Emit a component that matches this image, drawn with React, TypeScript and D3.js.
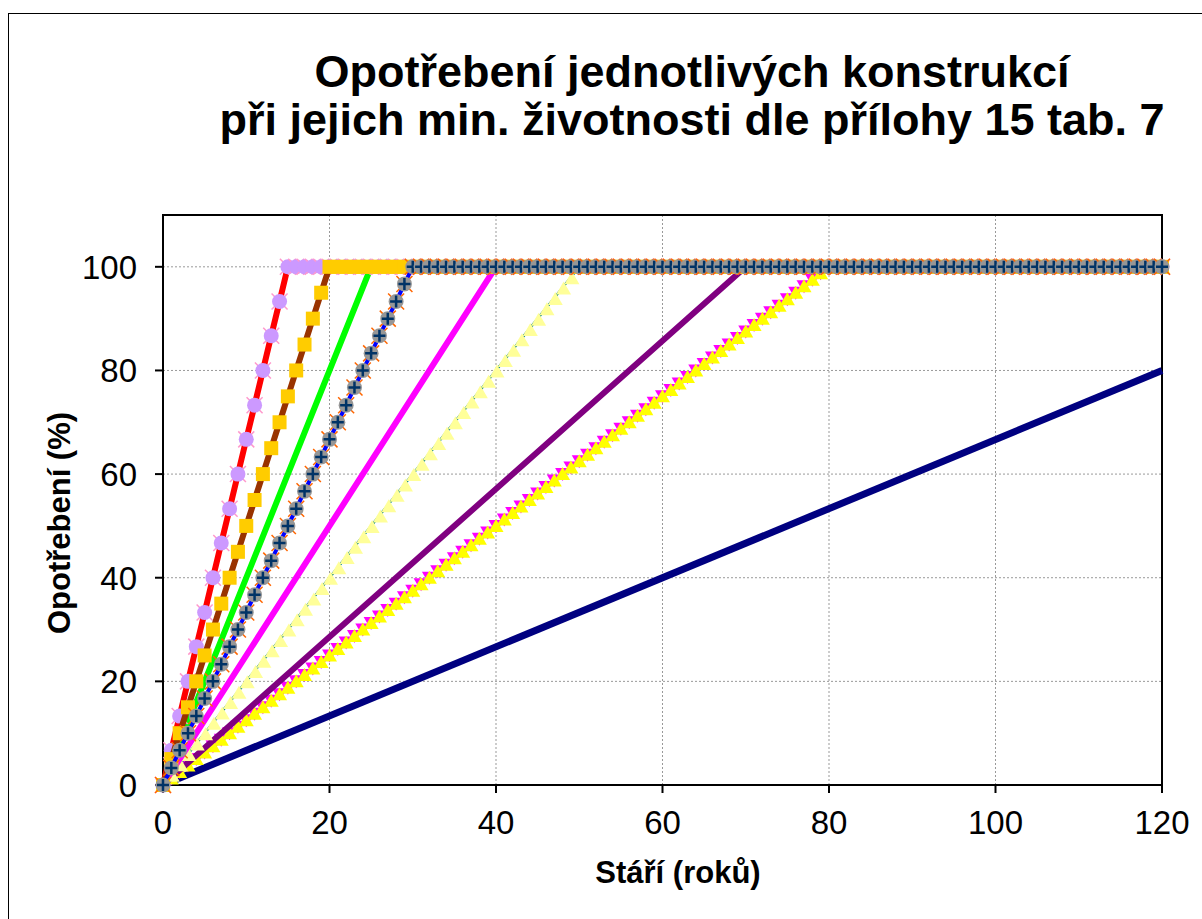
import React from "react";
import * as d3 from "d3";

// stáří v letech (osa x)
const years: number[] = [
  0, 1, 2, 3, 4, 5, 6, 7, 8, 9, 10, 11, 12, 13, 14, 15, 16, 17, 18, 19,
  20, 21, 22, 23, 24, 25, 26, 27, 28, 29, 30, 31, 32, 33, 34, 35, 36, 37, 38, 39,
  40, 41, 42, 43, 44, 45, 46, 47, 48, 49, 50, 51, 52, 53, 54, 55, 56, 57, 58, 59,
  60, 61, 62, 63, 64, 65, 66, 67, 68, 69, 70, 71, 72, 73, 74, 75, 76, 77, 78, 79,
  80, 81, 82, 83, 84, 85, 86, 87, 88, 89, 90, 91, 92, 93, 94, 95, 96, 97, 98, 99,
  100, 101, 102, 103, 104, 105, 106, 107, 108, 109, 110, 111, 112, 113, 114, 115, 116, 117, 118, 119,
  120,
];

// řady s body (hodnota pro každý rok)
const wear15: number[] = [
  0, 6.7, 13.3, 20, 26.7, 33.3, 40, 46.7, 53.3, 60, 66.7, 73.3, 80, 86.7, 93.3, 100,
  100, 100, 100, 100, 100, 100, 100, 100, 100, 100,
  100, 100, 100, 100, 100, 100, 100, 100, 100, 100,
  100, 100, 100, 100, 100, 100, 100, 100, 100, 100,
  100, 100, 100, 100, 100, 100, 100, 100, 100, 100,
  100, 100, 100, 100, 100, 100, 100, 100, 100, 100,
  100, 100, 100, 100, 100, 100, 100, 100, 100, 100,
  100, 100, 100, 100, 100, 100, 100, 100, 100, 100,
  100, 100, 100, 100, 100, 100, 100, 100, 100, 100,
  100, 100, 100, 100, 100, 100, 100, 100, 100, 100,
  100, 100, 100, 100, 100, 100, 100, 100, 100, 100,
  100, 100, 100, 100, 100,
];

const wear20: number[] = [
  0, 5, 10, 15, 20, 25, 30, 35, 40, 45, 50, 55, 60, 65, 70, 75, 80, 85, 90, 95, 100,
  100, 100, 100, 100, 100, 100, 100, 100, 100, 100,
  100, 100, 100, 100, 100, 100, 100, 100, 100, 100,
  100, 100, 100, 100, 100, 100, 100, 100, 100, 100,
  100, 100, 100, 100, 100, 100, 100, 100, 100, 100,
  100, 100, 100, 100, 100, 100, 100, 100, 100, 100,
  100, 100, 100, 100, 100, 100, 100, 100, 100, 100,
  100, 100, 100, 100, 100, 100, 100, 100, 100, 100,
  100, 100, 100, 100, 100, 100, 100, 100, 100, 100,
  100, 100, 100, 100, 100, 100, 100, 100, 100, 100,
  100, 100, 100, 100, 100, 100, 100, 100, 100, 100,
];

const wear30: number[] = [
  0, 3.3, 6.7, 10, 13.3, 16.7, 20, 23.3, 26.7, 30, 33.3, 36.7, 40, 43.3, 46.7, 50,
  53.3, 56.7, 60, 63.3, 66.7, 70, 73.3, 76.7, 80, 83.3, 86.7, 90, 93.3, 96.7, 100,
  100, 100, 100, 100, 100, 100, 100, 100, 100, 100,
  100, 100, 100, 100, 100, 100, 100, 100, 100, 100,
  100, 100, 100, 100, 100, 100, 100, 100, 100, 100,
  100, 100, 100, 100, 100, 100, 100, 100, 100, 100,
  100, 100, 100, 100, 100, 100, 100, 100, 100, 100,
  100, 100, 100, 100, 100, 100, 100, 100, 100, 100,
  100, 100, 100, 100, 100, 100, 100, 100, 100, 100,
  100, 100, 100, 100, 100, 100, 100, 100, 100, 100,
  100, 100, 100, 100, 100, 100, 100, 100, 100, 100,
];

const wear50: number[] = [
  0, 2, 4, 6, 8, 10, 12, 14, 16, 18, 20, 22, 24, 26, 28, 30, 32, 34, 36, 38,
  40, 42, 44, 46, 48, 50, 52, 54, 56, 58, 60, 62, 64, 66, 68, 70, 72, 74, 76, 78,
  80, 82, 84, 86, 88, 90, 92, 94, 96, 98, 100,
  100, 100, 100, 100, 100, 100, 100, 100, 100, 100,
  100, 100, 100, 100, 100, 100, 100, 100, 100, 100,
  100, 100, 100, 100, 100, 100, 100, 100, 100, 100,
  100, 100, 100, 100, 100, 100, 100, 100, 100, 100,
  100, 100, 100, 100, 100, 100, 100, 100, 100, 100,
  100, 100, 100, 100, 100, 100, 100, 100, 100, 100,
  100, 100, 100, 100, 100, 100, 100, 100, 100, 100,
];

const wear80: number[] = [
  0, 1.25, 2.5, 3.75, 5, 6.25, 7.5, 8.75, 10, 11.25, 12.5, 13.75, 15, 16.25, 17.5, 18.75,
  20, 21.25, 22.5, 23.75, 25, 26.25, 27.5, 28.75, 30, 31.25, 32.5, 33.75, 35, 36.25, 37.5, 38.75,
  40, 41.25, 42.5, 43.75, 45, 46.25, 47.5, 48.75, 50, 51.25, 52.5, 53.75, 55, 56.25, 57.5, 58.75,
  60, 61.25, 62.5, 63.75, 65, 66.25, 67.5, 68.75, 70, 71.25, 72.5, 73.75, 75, 76.25, 77.5, 78.75,
  80, 81.25, 82.5, 83.75, 85, 86.25, 87.5, 88.75, 90, 91.25, 92.5, 93.75, 95, 96.25, 97.5, 98.75,
  100,
  100, 100, 100, 100, 100, 100, 100, 100, 100, 100,
  100, 100, 100, 100, 100, 100, 100, 100, 100, 100,
  100, 100, 100, 100, 100, 100, 100, 100, 100, 100,
  100, 100, 100, 100, 100, 100, 100, 100, 100, 100,
];

// řady bez bodů (zlomové body čáry)
const green25X = [0, 25, 120];
const green25Y = [0, 100, 100];
const magenta40X = [0, 40, 120];
const magenta40Y = [0, 100, 100];
const purple70X = [0, 70, 120];
const purple70Y = [0, 100, 100];
const navy150X = [0, 120];
const navy150Y = [0, 80];

const xTicks = [0, 20, 40, 60, 80, 100, 120];
const yTicks = [0, 20, 40, 60, 80, 100];

const titleLines = [
  "Opotřebení jednotlivých konstrukcí",
  "při jejich min. životnosti dle přílohy 15 tab. 7",
];

const W = 1202;
const H = 919;
const left = 163;
const right = 1162;
const top = 215;
const bottom = 785;
const font = "'Liberation Sans', Arial, sans-serif";

const x = d3.scaleLinear().domain([0, 120]).range([left, right]);
const y = d3.scaleLinear().domain([0, 110]).range([bottom, top]);

type Pt = [number, number];
const pts = (xs: number[], ys: number[]): Pt[] => xs.map((v, i) => [v, ys[i]]);
const line = d3
  .line<Pt>()
  .x((d) => x(d[0]))
  .y((d) => y(d[1]));

const triUp = "M0,-7L7.5,6L-7.5,6Z";
const triDown = "M-7.5,-6L7.5,-6L0,7Z";
const cross = "M-8,-8L8,8M-8,8L8,-8";

const App: React.FC = () => {
  const s15 = pts(years, wear15);
  const s20 = pts(years, wear20);
  const s30 = pts(years, wear30);
  const s50 = pts(years, wear50);
  const s80 = pts(years, wear80);

  const at = (d: Pt) => `translate(${x(d[0])},${y(d[1])})`;

  return (
    <svg
      width={W}
      height={H}
      style={{ position: "absolute", left: 0, top: 0, background: "#fff" }}
    >
      <rect x={8.5} y={13.5} width={1400} height={1000} fill="#fff" stroke="#000" strokeWidth={1} />

      {titleLines.map((t, i) => (
        <text
          key={i}
          x={692}
          y={87 + i * 48}
          textAnchor="middle"
          fontFamily={font}
          fontWeight="bold"
          fontSize={45}
        >
          {t}
        </text>
      ))}

      {/* mřížka */}
      <g stroke="#999" strokeWidth={1} strokeDasharray="2,2">
        {xTicks.filter((t) => t > 0 && t < 120).map((t) => (
          <line key={"gx" + t} x1={x(t)} x2={x(t)} y1={top} y2={bottom} />
        ))}
        {yTicks.filter((t) => t > 0).map((t) => (
          <line key={"gy" + t} x1={left} x2={right} y1={y(t)} y2={y(t)} />
        ))}
      </g>

      {/* osy */}
      <rect x={left} y={top} width={right - left} height={bottom - top} fill="none" stroke="#000" strokeWidth={2} />
      <g stroke="#000" strokeWidth={2}>
        {xTicks.map((t) => (
          <line key={"tx" + t} x1={x(t)} x2={x(t)} y1={bottom} y2={bottom + 8} />
        ))}
        {yTicks.map((t) => (
          <line key={"ty" + t} x1={left - 8} x2={left} y1={y(t)} y2={y(t)} />
        ))}
      </g>
      <g fontFamily={font} fontSize={33}>
        {xTicks.map((t) => (
          <text key={"lx" + t} x={x(t)} y={bottom + 49} textAnchor="middle">
            {t}
          </text>
        ))}
        {yTicks.map((t) => (
          <text key={"ly" + t} x={137} y={y(t) + 12} textAnchor="end">
            {t}
          </text>
        ))}
      </g>

      {/* životnost 150 let */}
      <path d={line(pts(navy150X, navy150Y)) ?? ""} fill="none" stroke="#000080" strokeWidth={7} />

      {/* životnost 80 let */}
      <g>
        {s80.map((d, i) => (
          <path key={"m80" + i} d={triDown} transform={at(d)} fill="#FF00FF" />
        ))}
        {s80.map((d, i) => (
          <path key={"y80" + i} d={triUp} transform={at(d)} fill="#FFFF00" />
        ))}
      </g>

      {/* životnost 70 let */}
      <path d={line(pts(purple70X, purple70Y)) ?? ""} fill="none" stroke="#800080" strokeWidth={6} />

      {/* životnost 50 let */}
      <path d={line(s50) ?? ""} fill="none" stroke="#008080" strokeWidth={2.5} />
      {s50.map((d, i) => (
        <path key={"t50" + i} d={triUp} transform={`translate(${x(d[0]) + 1},${y(d[1]) + 1})`} fill="#FFFF99" />
      ))}

      {/* životnost 40 let */}
      <path d={line(pts(magenta40X, magenta40Y)) ?? ""} fill="none" stroke="#FF00FF" strokeWidth={6} />

      {/* životnost 25 let */}
      <path d={line(pts(green25X, green25Y)) ?? ""} fill="none" stroke="#00FF00" strokeWidth={6} />

      {/* životnost 15 let */}
      <path d={line(s15) ?? ""} fill="none" stroke="#FF0000" strokeWidth={6} />
      {s15.map((d, i) => (
        <g key={"c15" + i} transform={at(d)}>
          <path d={cross} stroke="#FF99CC" strokeWidth={1.5} />
          <circle r={7.5} fill="#CC99FF" />
        </g>
      ))}

      {/* životnost 20 let */}
      <path d={line(s20) ?? ""} fill="none" stroke="#993300" strokeWidth={6} />
      {s20.map((d, i) => (
        <rect key={"s20" + i} x={x(d[0]) - 7} y={y(d[1]) - 7} width={14} height={14} fill="#FFCC00" />
      ))}

      {/* životnost 30 let */}
      <path d={line(s30) ?? ""} fill="none" stroke="#0000FF" strokeWidth={4} />
      {s30.map((d, i) => (
        <g key={"p30" + i} transform={at(d)}>
          <path d={cross} stroke="#FF6600" strokeWidth={1.5} />
          <circle r={7.5} fill="#969696" />
          <path d="M-6,0H6M0,-6V6" stroke="#003366" strokeWidth={2.5} />
        </g>
      ))}

      {/* popisy os */}
      <text
        transform={`translate(70,523) rotate(-90)`}
        textAnchor="middle"
        fontFamily={font}
        fontWeight="bold"
        fontSize={31}
      >
        Opotřebení (%)
      </text>
      <text x={678} y={883} textAnchor="middle" fontFamily={font} fontWeight="bold" fontSize={31}>
        Stáří (roků)
      </text>
    </svg>
  );
};

export default App;
